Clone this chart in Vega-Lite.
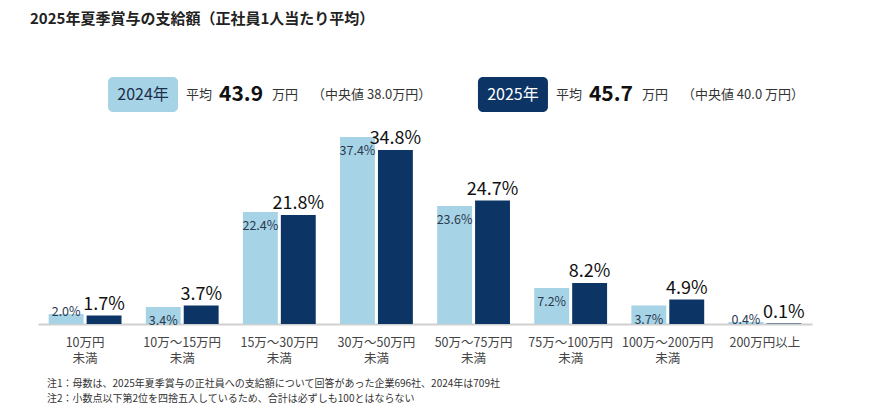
{
  "$schema": "https://vega.github.io/schema/vega-lite/v6.json",
  "background": "white",
  "padding": {"left": 30, "top": 12, "right": 10, "bottom": 5},
  "config": {
    "font": "Noto Sans CJK JP",
    "view": {"stroke": null},
    "concat": {"spacing": 12}
  },
  "title": {
    "text": "2025年夏季賞与の支給額（正社員1人当たり平均）",
    "anchor": "start",
    "dx": -8,
    "fontSize": 15,
    "fontWeight": "bold",
    "color": "#222222",
    "offset": 50
  },
  "datasets": {
    "summary": [
      {"year": "2024年", "avg": 43.9, "note": "（中央値 38.0万円）"},
      {"year": "2025年", "avg": 45.7, "note": "（中央値 40.0 万円）"}
    ],
    "share": [
      {"band": "10万円\n未満", "year": "2024年", "share": 0.020},
      {"band": "10万円\n未満", "year": "2025年", "share": 0.017},
      {"band": "10万～15万円\n未満", "year": "2024年", "share": 0.034},
      {"band": "10万～15万円\n未満", "year": "2025年", "share": 0.037},
      {"band": "15万～30万円\n未満", "year": "2024年", "share": 0.224},
      {"band": "15万～30万円\n未満", "year": "2025年", "share": 0.218},
      {"band": "30万～50万円\n未満", "year": "2024年", "share": 0.374},
      {"band": "30万～50万円\n未満", "year": "2025年", "share": 0.348},
      {"band": "50万～75万円\n未満", "year": "2024年", "share": 0.236},
      {"band": "50万～75万円\n未満", "year": "2025年", "share": 0.247},
      {"band": "75万～100万円\n未満", "year": "2024年", "share": 0.072},
      {"band": "75万～100万円\n未満", "year": "2025年", "share": 0.082},
      {"band": "100万～200万円\n未満", "year": "2024年", "share": 0.037},
      {"band": "100万～200万円\n未満", "year": "2025年", "share": 0.049},
      {"band": "200万円以上", "year": "2024年", "share": 0.004},
      {"band": "200万円以上", "year": "2025年", "share": 0.001}
    ]
  },
  "vconcat": [
    {
      "width": 580,
      "height": 35,
      "data": {"name": "summary"},
      "encoding": {
        "x": {
          "field": "year",
          "type": "nominal",
          "scale": {"paddingInner": 0.432, "paddingOuter": 0},
          "axis": null
        }
      },
      "layer": [
        {
          "mark": {"type": "bar", "width": 70, "cornerRadius": 5},
          "encoding": {
            "color": {
              "field": "year",
              "type": "nominal",
              "scale": {"domain": ["2024年", "2025年"], "range": ["#a7d3e6", "#0c3566"]},
              "legend": null
            }
          }
        },
        {
          "mark": {"type": "text", "fontSize": 16, "align": "center", "baseline": "middle"},
          "encoding": {
            "text": {"field": "year"},
            "color": {
              "condition": {"test": "datum.year === '2025年'", "value": "#ffffff"},
              "value": "#1d2f4a"
            }
          }
        },
        {
          "mark": {"type": "text", "fontSize": 13, "align": "left", "baseline": "middle", "dx": 43, "color": "#333333"},
          "encoding": {"text": {"value": "平均"}}
        },
        {
          "mark": {"type": "text", "fontSize": 21, "fontWeight": "bold", "align": "left", "baseline": "middle", "dx": 76, "color": "#111111"},
          "encoding": {"text": {"field": "avg", "type": "quantitative", "format": ".1f"}}
        },
        {
          "mark": {"type": "text", "fontSize": 13, "align": "left", "baseline": "middle", "dx": 129, "color": "#333333"},
          "encoding": {"text": {"value": "万円"}}
        },
        {
          "mark": {"type": "text", "fontSize": 13, "align": "left", "baseline": "middle", "dx": 169, "color": "#333333"},
          "encoding": {"text": {"field": "note"}}
        }
      ]
    },
    {
      "width": 774,
      "height": 200,
      "data": {"name": "share"},
      "title": {
        "text": [
          "注1：母数は、2025年夏季賞与の正社員への支給額について回答があった企業696社、2024年は709社",
          "注2：小数点以下第2位を四捨五入しているため、合計は必ずしも100とはならない"
        ],
        "orient": "bottom",
        "anchor": "start",
        "fontSize": 10,
        "fontWeight": "normal",
        "color": "#333333",
        "dx": 9,
        "offset": 14,
        "lineHeight": 15
      },
      "encoding": {
        "x": {
          "field": "band",
          "type": "nominal",
          "sort": null,
          "scale": {"paddingInner": 0.25, "paddingOuter": 0.11},
          "axis": {
            "title": null,
            "labelAngle": 0,
            "labelExpr": "split(datum.value, '\\n')",
            "labelFontSize": 12.5,
            "labelColor": "#444444",
            "labelLineHeight": 16,
            "labelPadding": 12,
            "ticks": false,
            "domainColor": "#d0d0d0",
            "domainWidth": 2
          }
        },
        "xOffset": {
          "field": "year",
          "type": "nominal",
          "scale": {"paddingInner": 0.08}
        },
        "y": {
          "field": "share",
          "type": "quantitative",
          "stack": null,
          "scale": {"domain": [0, 0.4]},
          "axis": null
        }
      },
      "layer": [
        {
          "mark": {"type": "bar"},
          "encoding": {
            "color": {
              "field": "year",
              "type": "nominal",
              "scale": {"domain": ["2024年", "2025年"], "range": ["#a7d3e6", "#0c3566"]},
              "legend": null
            }
          }
        },
        {
          "transform": [{"filter": "datum.year === '2024年' && datum.share >= 0.03"}],
          "mark": {"type": "text", "baseline": "middle", "dy": 14, "fontSize": 12.5, "color": "#2b3a4f"},
          "encoding": {"text": {"field": "share", "type": "quantitative", "format": ".1%"}}
        },
        {
          "transform": [{"filter": "datum.year === '2024年' && datum.share < 0.03"}],
          "mark": {"type": "text", "baseline": "middle", "dy": -2, "fontSize": 12.5, "color": "#2b3a4f"},
          "encoding": {"text": {"field": "share", "type": "quantitative", "format": ".1%"}}
        },
        {
          "transform": [{"filter": "datum.year === '2025年'"}],
          "mark": {"type": "text", "baseline": "bottom", "dy": -2, "fontSize": 18, "color": "#111111"},
          "encoding": {"text": {"field": "share", "type": "quantitative", "format": ".1%"}}
        }
      ]
    }
  ]
}
